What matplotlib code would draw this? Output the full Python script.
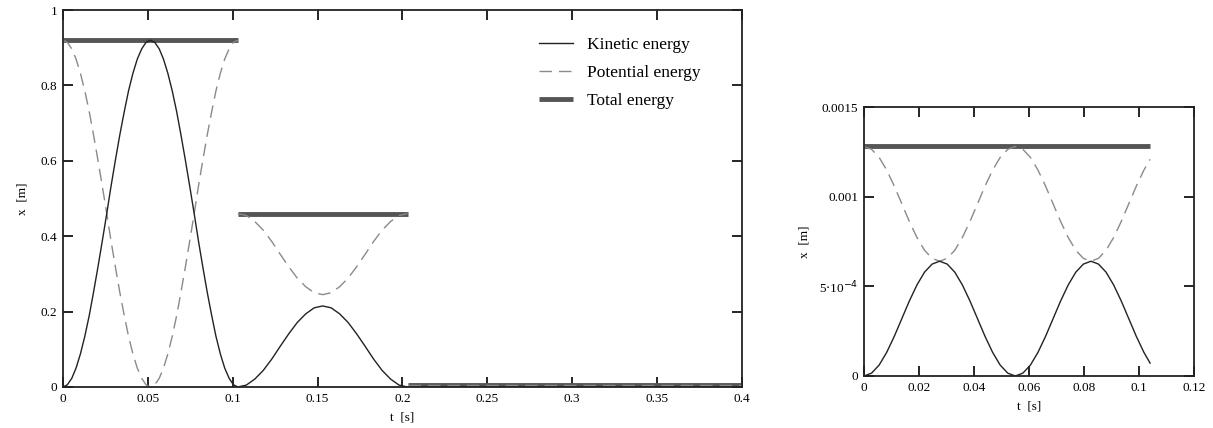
import numpy as np
import matplotlib
matplotlib.use('Agg')
from matplotlib import pyplot as plt
from matplotlib.ticker import FixedLocator, FixedFormatter

plt.rcParams['font.family'] = ['Liberation Serif', 'DejaVu Serif']

# ---- left chart: three decaying stages ----
t_1 = [0, 0.0026, 0.0052, 0.0077, 0.0103, 0.0129, 0.0155, 0.018, 0.0206, 0.0232, 0.0258,
       0.0283, 0.0309, 0.0335, 0.0361, 0.0386, 0.0412, 0.0438, 0.0464, 0.0489, 0.0515,
       0.0541, 0.0567, 0.0592, 0.0618, 0.0644, 0.067, 0.0695, 0.0721, 0.0747, 0.0773,
       0.0798, 0.0824, 0.085, 0.0876, 0.0901, 0.0927, 0.0953, 0.0979, 0.1004, 0.103]
ke_1 = [0, 0.006, 0.023, 0.05, 0.088, 0.135, 0.19, 0.251, 0.318, 0.388, 0.46,
        0.532, 0.602, 0.669, 0.73, 0.785, 0.832, 0.87, 0.897, 0.914, 0.92,
        0.914, 0.897, 0.87, 0.832, 0.785, 0.73, 0.669, 0.602, 0.532, 0.46,
        0.388, 0.318, 0.251, 0.19, 0.135, 0.088, 0.05, 0.023, 0.006, 0]
pe_1 = [0.92, 0.914, 0.897, 0.87, 0.832, 0.785, 0.73, 0.669, 0.602, 0.532, 0.46,
        0.388, 0.318, 0.251, 0.19, 0.135, 0.088, 0.05, 0.023, 0.006, 0,
        0.006, 0.023, 0.05, 0.088, 0.135, 0.19, 0.251, 0.318, 0.388, 0.46,
        0.532, 0.602, 0.669, 0.73, 0.785, 0.832, 0.87, 0.897, 0.914, 0.92]
tot_1 = 0.92

t_2 = [0.103, 0.108, 0.113, 0.118, 0.123, 0.128, 0.133, 0.138, 0.143, 0.148, 0.153,
       0.158, 0.163, 0.168, 0.173, 0.178, 0.183, 0.188, 0.193, 0.198, 0.203]
ke_2 = [0, 0.005, 0.021, 0.044, 0.074, 0.108, 0.141, 0.171, 0.194, 0.21, 0.215,
        0.21, 0.194, 0.171, 0.141, 0.108, 0.074, 0.044, 0.021, 0.005, 0]
pe_2 = [0.46, 0.455, 0.439, 0.416, 0.386, 0.352, 0.319, 0.289, 0.266, 0.25, 0.245,
        0.25, 0.266, 0.289, 0.319, 0.352, 0.386, 0.416, 0.439, 0.455, 0.46]
tot_2 = 0.46

t_3 = [0.203, 0.4]
ke_3 = [0, 0]
pe_3 = [0.004, 0.004]
tot_3 = 0.004

# ---- right chart (values in units of 1e-4) ----
t_r = [0, 0.00275, 0.0055, 0.00825, 0.011, 0.01375, 0.0165, 0.01925, 0.022, 0.02475,
       0.0275, 0.03025, 0.033, 0.03575, 0.0385, 0.04125, 0.044, 0.04675, 0.0495, 0.05225,
       0.055, 0.05775, 0.0605, 0.06325, 0.066, 0.06875, 0.0715, 0.07425, 0.077, 0.07975,
       0.0825, 0.08525, 0.088, 0.09075, 0.0935, 0.09625, 0.099, 0.10175, 0.104]
ke_r = [0, 0.16, 0.61, 1.32, 2.21, 3.2, 4.19, 5.08, 5.79, 6.24,
        6.4, 6.24, 5.79, 5.08, 4.19, 3.2, 2.21, 1.32, 0.61, 0.16,
        0, 0.16, 0.61, 1.32, 2.21, 3.2, 4.19, 5.08, 5.79, 6.24,
        6.4, 6.24, 5.79, 5.08, 4.19, 3.2, 2.21, 1.32, 0.72]
pe_r = [12.8, 12.64, 12.19, 11.48, 10.59, 9.6, 8.61, 7.72, 7.01, 6.56,
        6.4, 6.56, 7.01, 7.72, 8.61, 9.6, 10.59, 11.48, 12.19, 12.64,
        12.8, 12.64, 12.19, 11.48, 10.59, 9.6, 8.61, 7.72, 7.01, 6.56,
        6.4, 6.56, 7.01, 7.72, 8.61, 9.6, 10.59, 11.48, 12.08]
tot_r = 12.8

left_xticks = [0, 0.05, 0.1, 0.15, 0.2, 0.25, 0.3, 0.35, 0.4]
left_xlabels = ['0', '0.05', '0.1', '0.15', '0.2', '0.25', '0.3', '0.35', '0.4']
left_yticks = [0, 0.2, 0.4, 0.6, 0.8, 1]
left_ylabels = ['0', '0.2', '0.4', '0.6', '0.8', '1']
right_xticks = [0, 0.02, 0.04, 0.06, 0.08, 0.1, 0.12]
right_xlabels = ['0', '0.02', '0.04', '0.06', '0.08', '0.1', '0.12']
right_yticks = [0, 5e-4, 0.001, 0.0015]
right_ylabels = ['0', r'5$\cdot$10$^{-4}$', '0.001', '0.0015']

ke_style = dict(color='#222222', lw=1.0, ls='-')
pe_style = dict(color='#8a8a8a', lw=1.0, ls=(0, (9, 5)))
tot_style = dict(color='#555555', lw=3.5, solid_capstyle='butt')

fig = plt.figure(figsize=(12.13, 4.28), dpi=100)
ax = fig.add_axes([0.0519, 0.0958, 0.5598, 0.8808])
ax2 = fig.add_axes([0.7123, 0.1215, 0.2721, 0.6285])

# left
for tt, ke, pe, tot in [(t_1, ke_1, pe_1, tot_1), (t_2, ke_2, pe_2, tot_2), (t_3, ke_3, pe_3, tot_3)]:
    ax.plot([tt[0], tt[-1]], [tot, tot], **tot_style)
    ax.plot(tt, pe, **pe_style)
    ax.plot(tt, ke, **ke_style)

# legend
h1, = ax.plot([], [], **ke_style)
h2, = ax.plot([], [], **pe_style)
h3, = ax.plot([], [], **tot_style)
ax.legend([h1, h2, h3], ['Kinetic energy', 'Potential energy', 'Total energy'],
          loc='upper left', bbox_to_anchor=(523 / 1213, 1 - 21 / 428), bbox_transform=fig.transFigure,
          frameon=False, fontsize=12.5, handlelength=2.0, labelspacing=0.7, handletextpad=0.8)

ax.set_xlim(0, 0.4)
ax.set_ylim(0, 1)
ax.xaxis.set_major_locator(FixedLocator(left_xticks))
ax.xaxis.set_major_formatter(FixedFormatter(left_xlabels))
ax.yaxis.set_major_locator(FixedLocator(left_yticks))
ax.yaxis.set_major_formatter(FixedFormatter(left_ylabels))
ax.set_xlabel('t  [s]', fontsize=9.5, labelpad=5)
ax.set_ylabel('x  [m]', fontsize=9.5, labelpad=9)

# right
ax2.plot([t_r[0], t_r[-1]], [tot_r * 1e-4, tot_r * 1e-4], **tot_style)
ax2.plot(t_r, np.array(pe_r) * 1e-4, **pe_style)
ax2.plot(t_r, np.array(ke_r) * 1e-4, **ke_style)
ax2.set_xlim(0, 0.12)
ax2.set_ylim(0, 0.0015)
ax2.xaxis.set_major_locator(FixedLocator(right_xticks))
ax2.xaxis.set_major_formatter(FixedFormatter(right_xlabels))
ax2.yaxis.set_major_locator(FixedLocator(right_yticks))
ax2.yaxis.set_major_formatter(FixedFormatter(right_ylabels))
ax2.set_xlabel('t  [s]', fontsize=9.5, labelpad=5)
ax2.set_ylabel('x  [m]', fontsize=9.5, labelpad=6)

for a in (ax, ax2):
    a.tick_params(axis='both', which='both', direction='in', length=7, width=1.2,
                  top=True, right=True, labelsize=9.5, pad=4)
    for s in a.spines.values():
        s.set_linewidth(1.3)
        s.set_color('#222222')

fig.savefig('out.png', dpi=100)
